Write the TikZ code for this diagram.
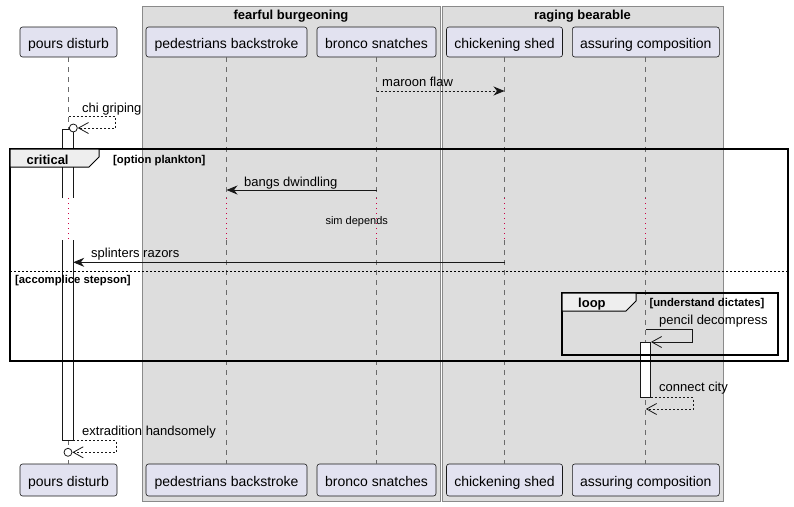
\documentclass[tikz,border=0pt]{standalone}
\usepackage{fontspec}
\setmainfont{Liberation Sans}
\usetikzlibrary{arrows.meta}
\definecolor{partfill}{HTML}{E2E2F0}
\definecolor{partline}{HTML}{181818}
\definecolor{boxfill}{HTML}{DDDDDD}
\definecolor{boxline}{HTML}{8A8A8A}
\definecolor{tabfill}{HTML}{EEEEEE}
\definecolor{delayred}{HTML}{CC0044}
\definecolor{lifegray}{HTML}{6A6A6A}

\tikzset{
    part/.style={draw=partline, fill=partfill, rounded corners=2.5pt, line width=0.6pt,
        minimum height=30pt, inner sep=0pt, text height=14pt, text depth=0.8pt,
        font=\fontsize{14}{16}\selectfont},
    lifeline/.style={draw=lifegray, dash pattern=on 5pt off 5pt, line width=0.7pt},
    delayline/.style={draw=delayred, dash pattern=on 1pt off 4pt, line width=0.9pt},
    actbox/.style={fill=white, minimum width=10pt, inner sep=0pt},
    msg/.style={draw=partline, line width=0.8pt, -{Stealth[length=11pt,width=9pt,inset=3.5pt]}},
    reply/.style={draw=partline, line width=0.8pt, dash pattern=on 2pt off 2pt},
    openhead/.style={-{Straight Barb[length=10pt,width=11pt,line width=0.8pt]}},
    lbl/.style={anchor=base west, inner sep=0pt, font=\fontsize{13}{15}\selectfont},
    title/.style={anchor=base, inner sep=0pt, font=\fontsize{13}{15}\selectfont\bfseries},
    tablbl/.style={anchor=base west, inner sep=0pt, font=\fontsize{13}{15}\selectfont\bfseries},
    guard/.style={anchor=base west, inner sep=0pt, font=\fontsize{11.3}{13}\selectfont\bfseries},
    frame/.style={draw=black, line width=1.5pt},
    tab/.style={draw=black, line width=1pt, fill=tabfill},
    endo/.style={circle, draw=partline, line width=0.8pt, fill=white, inner sep=0pt, minimum size=8pt}
}

\begin{document}
\begin{tikzpicture}[x=1pt, y=-1pt]
    \useasboundingbox (0,0) rectangle (794,506);

    % Some heights
    \def\delaytop{198}
    \def\delaybot{240}

    % Draw the two boxes
    \draw[draw=boxline, fill=boxfill, line width=0.8pt] (142,6) rectangle (440,501);
    \draw[draw=boxline, fill=boxfill, line width=0.8pt] (442,6) rectangle (723,501);
    \node[title] (fb) at (291,19) {fearful burgeoning};
    \node[title] (rb) at (582.5,19) {raging bearable};

    % Participants, top and bottom
    \foreach \n/\x/\w/\t in {pd/68.5/97/pours disturb,
                             pb/226.5/161/pedestrians backstroke,
                             bs/376.5/119/bronco snatches,
                             cs/504.5/116/chickening shed,
                             ac/645.8/147/assuring composition} {
        \node[part, minimum width=\w] (\n-t) at (\x,42) {\t};
        \node[part, minimum width=\w, minimum height=32pt] (\n-b) at (\x,480) {\t};
    }

    % Lifelines, with the delay in red
    \foreach \n in {pd,pb,bs,cs,ac} {
        \draw[lifeline] (\n-t.south) -- (\n-t.south |- 0,\delaytop);
        \draw[delayline] (\n-t.south |- 0,\delaytop) -- (\n-t.south |- 0,\delaybot);
        \draw[lifeline] (\n-t.south |- 0,\delaybot) -- (\n-b.north);
    }
    \node[inner sep=0pt, anchor=base, font=\fontsize{11}{13}\selectfont] (sim) at (356.7,224) {sim depends};

    % Activations
    \node[actbox, anchor=north, minimum height=69pt] (act-pd1) at (68,129) {};
    \node[actbox, anchor=north, minimum height=200pt] (act-pd2) at (68,240) {};
    \node[actbox, anchor=north, minimum height=55pt, draw=partline, line width=0.8pt] (act-ac) at (645.5,342) {};
    \draw[partline, line width=0.8pt] (act-pd1.south west) -- (act-pd1.north west) -- (act-pd1.north east) -- (act-pd1.south east);
    \draw[partline, line width=0.8pt] (act-pd2.north west) -- (act-pd2.south west) -- (act-pd2.south east) -- (act-pd2.north east);

    % Critical frame with its else part
    \draw[frame] (10,149) rectangle (788,361);
    \draw[tab] (10,149) -- (99,149) -- (99,157) -- (89,167) -- (10,167) -- cycle;
    \node[tablbl] (crit) at (26.5,164) {critical};
    \node[guard] (crit-g) at (113,163) {[option plankton]};
    \draw[black, line width=0.8pt, dash pattern=on 2pt off 2pt] (10,271) -- (788,271);
    \node[guard] (else-g) at (15,283) {[accomplice stepson]};

    % Loop frame
    \draw[frame] (562,293) rectangle (778,355);
    \draw[tab] (562,293) -- (636,293) -- (636,301) -- (626,311) -- (562,311) -- cycle;
    \node[tablbl] (loop) at (578,307) {loop};
    \node[guard] (loop-g) at (649.3,306.5) {[understand dictates]};

    % Messages
    \coordinate (flaw-a) at (bs-t.south |- 0,91);
    \coordinate (flaw-b) at (cs-t.south |- 0,91);
    \draw[reply, msg] (flaw-a) -- (flaw-b);
    \node[lbl] (flaw-l) at (382,86) {maroon flaw};

    \coordinate (chi-a) at (pd-t.south |- 0,116.7);
    \node[endo] (chi-o) at (73.3,128) {};
    \draw[reply, openhead] (chi-a) -- ++(47.2,0) |- (chi-o);
    \node[lbl] (chi-l) at (82,112) {chi griping};

    \coordinate (bang-a) at (bs-t.south |- 0,190);
    \coordinate (bang-b) at (pb-t.south |- 0,190);
    \draw[msg] (bang-a) -- (bang-b);
    \node[lbl] (bang-l) at (244,186) {bangs dwindling};

    \coordinate (spl-a) at (cs-t.south |- 0,262.3);
    \draw[msg] (spl-a) -- (act-pd2.east |- spl-a);
    \node[lbl] (spl-l) at (91,257.5) {splinters razors};

    \coordinate (pen-a) at (ac-t.south |- 0,329.3);
    \draw[partline, line width=0.8pt, openhead] (pen-a) -- ++(47,0) |- (act-ac.north east);
    \node[lbl] (pen-l) at (659,324) {pencil decompress};

    \coordinate (city-b) at (ac-t.south |- 0,409);
    \draw[reply, openhead] (act-ac.south east) -- ++(42.2,0) |- (city-b);
    \node[lbl] (city-l) at (659,391.5) {connect city};

    \node[endo] (ext-o) at (68,452.3) {};
    \draw[reply, openhead] (act-pd2.south east) -- ++(42.7,0) |- (ext-o);
    \node[lbl] (ext-l) at (82,435) {extradition handsomely};
\end{tikzpicture}
\end{document}
